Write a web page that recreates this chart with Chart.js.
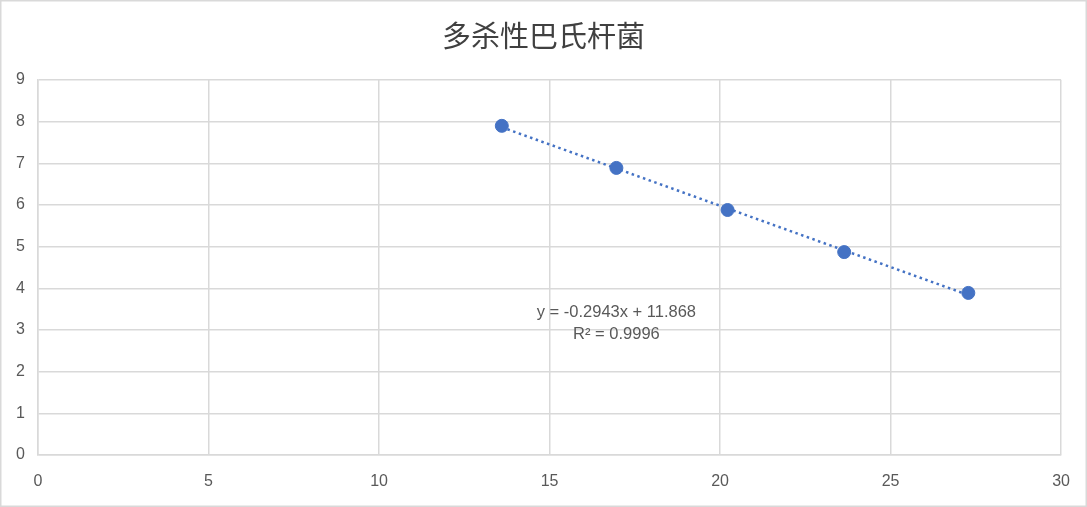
<!DOCTYPE html>
<html>
<head>
<meta charset="utf-8">
<script src="https://cdn.jsdelivr.net/npm/chart.js@4/dist/chart.umd.min.js"></script>
<style>
  html, body { margin: 0; padding: 0; background: #fff; }
  #box { width: 1087px; height: 507px; position: relative; }
</style>
</head>
<body>
<div id="box"><canvas id="chart"></canvas></div>
<script>
// values
const xValues = [13.6, 16.96, 20.22, 23.64, 27.28];
const yValues = [7.9, 6.89, 5.88, 4.87, 3.89];
const slope = -0.2943;
const intercept = 11.868;
const equationText = "y = -0.2943x + 11.868";
const r2Text = "R² = 0.9996";
const titleText = "多杀性巴氏杆菌";

const points = xValues.map((x, i) => ({ x: x, y: yValues[i] }));
// trendline from the printed equation, over the range of the data
const xFirst = Math.min(...xValues);
const xLast = Math.max(...xValues);
const trend = [
    { x: xFirst, y: slope * xFirst + intercept },
    { x: xLast, y: slope * xLast + intercept }
];

const gray = "#595959";
const gridColor = "#d9d9d9";
const blue = "#4472C4";

const frame = {
    id: "frame",
    afterDraw(chart) {
        const c = chart.ctx;
        c.save();
        c.strokeStyle = gridColor;
        c.lineWidth = 1.5;
        c.strokeRect(0.75, 0.75, chart.width - 1.5, chart.height - 1.5);
        // title, centred on the whole chart
        c.fillStyle = "#404040";
        c.font = "29px 'Noto Sans CJK SC', sans-serif";
        c.textAlign = "center";
        c.textBaseline = "middle";
        c.fillText(titleText, chart.width / 2, 36);
        // equation label
        const xs = chart.scales.x, ys = chart.scales.y;
        const px = xs.getPixelForValue(16.96);
        c.fillStyle = gray;
        c.font = "16.5px 'Liberation Sans', sans-serif";
        c.fillText(equationText, px, ys.getPixelForValue(3.42));
        c.fillText(r2Text, px, ys.getPixelForValue(2.9));
        c.restore();
    }
};

const context = document.getElementById("chart").getContext("2d");
new Chart(context, {
    type: "scatter",
    data: {
        datasets: [
            {
                label: "points",
                data: points,
                backgroundColor: blue,
                borderColor: blue,
                pointRadius: 6.5,
                pointHoverRadius: 6.5,
                order: 1
            },
            {
                label: "trend",
                data: trend,
                showLine: true,
                borderColor: blue,
                borderWidth: 2.5,
                borderDash: [2.5, 3.5],
                pointRadius: 0,
                order: 2
            }
        ]
    },
    options: {
        responsive: true,
        maintainAspectRatio: false,
        animation: false,
        layout: { padding: { left: 0, right: 25, top: 80, bottom: 0 } },
        plugins: {
            legend: { display: false },
            tooltip: { enabled: false },
            title: { display: false }
        },
        scales: {
            x: {
                type: "linear",
                min: 0,
                max: 30,
                ticks: { stepSize: 5, color: gray, padding: 17, font: { family: "'Liberation Sans', sans-serif", size: 16 } },
                grid: { color: gridColor, lineWidth: 1.5, drawTicks: false },
                border: { color: gridColor, width: 1.5 },
                afterFit(scale) { scale.height = 52; }
            },
            y: {
                min: 0,
                max: 9,
                ticks: { stepSize: 1, color: gray, padding: 13, font: { family: "'Liberation Sans', sans-serif", size: 16 } },
                grid: { color: gridColor, lineWidth: 1.5, drawTicks: false },
                border: { color: gridColor, width: 1.5 },
                afterFit(scale) { scale.width = 38; }
            }
        }
    },
    plugins: [frame]
});
</script>
</body>
</html>
